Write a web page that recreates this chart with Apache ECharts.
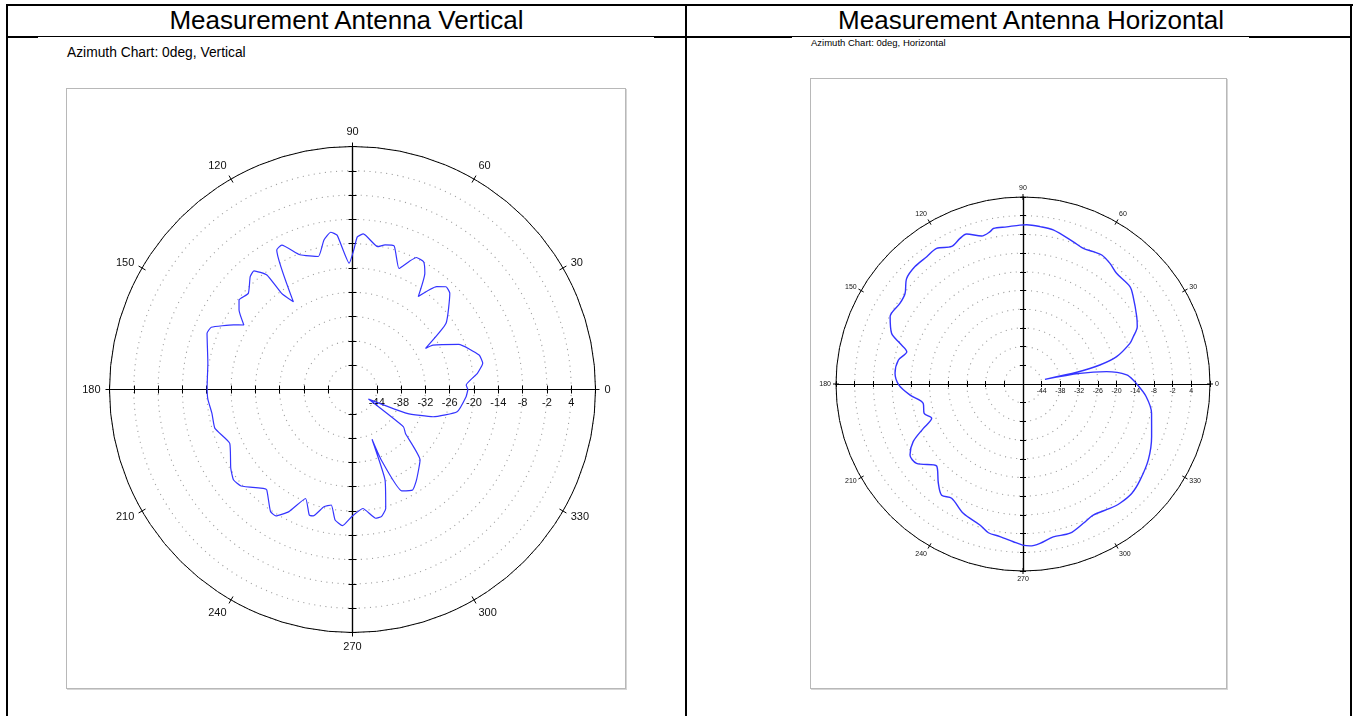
<!DOCTYPE html>
<html>
<head>
<meta charset="utf-8">
<script src="https://cdn.jsdelivr.net/npm/echarts@6/dist/echarts.min.js"></script>
<style>
html,body{margin:0;padding:0;background:#fff;}
#page{position:relative;width:1356px;height:716px;overflow:hidden;font-family:'Liberation Sans',Arial,sans-serif;color:#000;}
.ln{position:absolute;background:#000;}
.frame{position:absolute;box-sizing:border-box;border:1px solid #b8b8b8;box-shadow:1px 1px 0 #d6d6d6;}
.title{position:absolute;top:5px;line-height:31px;font-size:26px;white-space:nowrap;transform:translateX(-50%);}
.sub{position:absolute;white-space:nowrap;}
#chart{position:absolute;left:0;top:0;width:1356px;height:716px;}
</style>
</head>
<body>
<div id="page">
  <div class="ln" style="left:6px;top:4px;width:1347px;height:2px"></div>
  <div class="ln" style="left:6px;top:4px;width:2px;height:712px"></div>
  <div class="ln" style="left:685px;top:4px;width:2px;height:712px"></div>
  <div class="ln" style="left:1350px;top:4px;width:2px;height:712px"></div>
  <div class="ln" style="left:6px;top:36px;width:1346px;height:1px"></div>
  <div class="ln" style="left:6px;top:36px;width:32px;height:2px"></div>
  <div class="ln" style="left:654px;top:36px;width:138px;height:2px"></div>
  <div class="ln" style="left:1249px;top:36px;width:103px;height:2px"></div>

  <div class="title" style="left:346.5px">Measurement Antenna Vertical</div>
  <div class="title" style="left:1031px">Measurement Antenna Horizontal</div>

  <div class="sub" style="left:67px;top:46px;font-size:13.8px;line-height:13px">Azimuth Chart: 0deg, Vertical</div>
  <div class="sub" style="left:811px;top:38px;font-size:9.5px;line-height:9px">Azimuth Chart: 0deg, Horizontal</div>

  <div class="frame" style="left:66px;top:88px;width:560px;height:601px"></div>
  <div class="frame" style="left:810px;top:78px;width:417px;height:611px"></div>

  <div id="chart"></div>
</div>
<script>
// ---- data (dB vs azimuth in degrees) ----
const vAngles = [0, 2.3, 7.4, 11.4, 15.2, 23, 28.9, 29.4, 35.3, 44.7, 47.7, 50.7, 54.7, 58.1, 60.9,
  64.2, 66.2, 69, 73.8, 77.3, 80, 86, 88.2, 89.5, 91.5, 95.7, 97.9, 100.8, 104.4, 111.3,
  116.1, 118.5, 124, 126.4, 126.8, 129.7, 132.2, 137.3, 141.7, 145, 149.3, 151.5, 156.2, 158.9, 169.7,
  178.9, 183.8, 189.6, 195.8, 203.7, 212.9, 217.3, 220.9, 227.9, 229.5, 236.1, 238.8, 242.5, 246.7, 251,
  252.7, 256.3, 259.6, 262.4, 265.8, 269.6, 275, 280.2, 282.8, 285.6, 289.8, 291.4, 292.2, 295.9, 300.9,
  305.2, 313.8, 320.3, 323.8, 329.1, 336.4, 341.3, 348, 356.4, 360];
const vGain = [-21.5, -21.9, -18.9, -17.2, -17.6, -21.5, -27.3, -29.3, -21.7, -16.2, -15.7, -17.2, -21.9, -16.2, -13.9,
  -13.8, -15.5, -18.0, -13.1, -13.4, -14.2, -11.5, -12.3, -15.6, -18.8, -11.7, -10.8, -12.4, -16.1, -14.3,
  -10.3, -10.8, -23.9, -20.5, -14.7, -11.9, -12.4, -15.0, -14.3, -15.8, -18.8, -16.6, -11.9, -11.5, -13.7,
  -14.1, -14.2, -14.8, -14.7, -16.9, -14.2, -13.1, -13.6, -17.1, -17.4, -13.7, -13.5, -16.0, -20.7, -17.2,
  -17.3, -20.2, -21.0, -17.5, -16.3, -18.6, -20.5, -17.7, -17.8, -19.5, -26.3, -36.8, -31.2, -22.2, -21.1,
  -22.6, -25.9, -33.0, -34.4, -45.4, -35.3, -29.0, -23.6, -21.9, -21.5];

const hAngles = [0, 1.2, 5, 8.4, 10.6, 12, 12.4, 13.9, 16.3, 20.8, 23.2, 26.6, 30.6, 38.4, 42.3,
  49.8, 54.2, 58.6, 62, 66, 70.5, 78.9, 83.8, 88.7, 91.1, 95.9, 100.8, 102.2, 105.6, 110.6,
  113.4, 117.4, 122.5, 127.1, 132.6, 137.8, 142.5, 146.7, 153.1, 158.9, 161.7, 164.5, 169.1, 175.2, 180.5,
  185.6, 191, 196.5, 200.6, 204, 207.7, 212.1, 216.7, 223.5, 229.6, 233.8, 238, 245.2, 253, 256.9,
  261.4, 266.5, 269.9, 272.5, 276.1, 281.2, 287.5, 293.4, 298.2, 304.9, 309.1, 314.8, 320.6, 328.8, 337.7,
  347.2, 354.2, 360];
const hGain = [-13.5, -14.1, -16.6, -22.9, -31.4, -42.8, -32.0, -24.6, -18.7, -13.3, -11.5, -9.0, -7.6, -4.9, -3.6,
  -3.5, -2.3, -1.5, -1.9, -2.4, -1.6, 0.4, 0.8, 1.1, 1.0, 0.7, 0.8, 0.0, -0.7, 1.4,
  0.9, -0.3, 1.6, 1.2, 1.2, 0.4, -2.3, -2.8, -2.2, -4.8, -8.4, -11.3, -9.3, -8.8, -10.2,
  -13.6, -17.4, -16.9, -18.7, -15.0, -10.2, -7.2, -7.4, -11.8, -8.1, -5.8, -6.8, -4.3, -2.7, -1.0,
  -0.5, 0.7, 1.7, 2.0, 1.4, 0.0, 0.2, -1.3, -2.3, -1.3, -0.7, -0.5, -1.4, -3.0, -5.4,
  -7.7, -10.3, -13.5];

const radialTickLabels = ['-44', '-38', '-32', '-26', '-20', '-14', '-8', '-2', '4'];
const radiusMin = -50, radiusMax = 10, radiusStep = 6;
const angleStep = 30;

// ---- layout / style (not data) ----
const FONT = 'Liberation Sans, Arial, sans-serif';
const charts = [
  { cx: 352.5, cy: 389.5, R: 243, font: 11, tick: 4, margin: 9, radMargin: 8, lw: 1.2, smooth: 0.15, angles: vAngles, gains: vGain },
  { cx: 1023, cy: 384, R: 187, font: 7, tick: 3, margin: 5, radMargin: 3.5, lw: 1.4, smooth: 0.3, angles: hAngles, gains: hGain }
];

const option = {
  animation: false,
  textStyle: { fontFamily: FONT },
  polar: [], angleAxis: [], radiusAxis: [], grid: [], xAxis: [], yAxis: [], series: []
};

const span = radiusMax - radiusMin;
function crossLabel(v) {
  const k = Math.round(v / radiusStep);
  return (k >= 1 && k <= radialTickLabels.length) ? radialTickLabels[k - 1] : '';
}

charts.forEach((c, i) => {
  const p0 = i * 2;
  const g0 = i * 2;
  option.polar.push({ center: [c.cx, c.cy], radius: c.R });
  option.polar.push({ center: [c.cx, c.cy], radius: c.R });
  option.angleAxis.push({
    polarIndex: p0, type: 'value', min: 0, max: 360, interval: angleStep,
    startAngle: 0, clockwise: false, z: 3,
    axisLine: { show: true, lineStyle: { color: '#000', width: 1 } },
    axisTick: { show: true, length: c.tick, lineStyle: { color: '#000', width: 1 } },
    axisLabel: {
      show: true, margin: c.margin, fontSize: c.font, color: '#111', fontFamily: FONT,
      formatter: v => {
        if (v >= 360) return '';
        const m = v % 180;
        return (m === 30 || m === 150) ? '{d|' + v + '}' : String(v);
      },
      rich: { d: { fontSize: c.font, color: '#111', fontFamily: FONT, lineHeight: 2 } }
    },
    splitLine: { show: false }
  });
  option.angleAxis.push({
    polarIndex: p0 + 1, type: 'value', min: 0, max: 360, interval: angleStep,
    startAngle: 0, clockwise: false, z: 3,
    axisLine: { show: false },
    axisTick: { show: true, inside: true, length: c.tick, lineStyle: { color: '#000', width: 1 } },
    axisLabel: { show: false },
    splitLine: { show: false }
  });
  option.radiusAxis.push({
    polarIndex: p0, type: 'value', min: radiusMin, max: radiusMax, interval: radiusStep,
    axisLine: { show: false }, axisTick: { show: false }, axisLabel: { show: false },
    splitLine: { show: true, lineStyle: { color: '#a0a0a0', width: 1.1, type: [1.1, 4.5] } }
  });
  option.radiusAxis.push({
    polarIndex: p0 + 1, type: 'value', min: radiusMin, max: radiusMax, interval: radiusStep,
    axisLine: { show: false }, axisTick: { show: false }, axisLabel: { show: false },
    splitLine: { show: false }
  });

  // crosshair through the centre, graduated in the same radial steps
  option.grid.push({ left: c.cx - c.R, top: c.cy - c.R, width: 2 * c.R, height: 2 * c.R, show: false });
  // label strip whose bottom edge is the horizontal diameter
  option.grid.push({ left: c.cx - c.R, top: c.cy - c.R, width: 2 * c.R, height: c.R, show: false });
  const ax = (pos) => ({
    gridIndex: g0, type: 'value', min: -span, max: span, interval: radiusStep, position: pos, z: 4,
    axisLine: { show: true, onZero: true, lineStyle: { color: '#000', width: 1.2 } },
    axisTick: { show: true, length: c.tick, lineStyle: { color: '#000', width: 1 } },
    axisLabel: { show: false },
    splitLine: { show: false }
  });
  option.xAxis.push(ax('bottom'));
  option.xAxis.push(ax('top'));
  option.yAxis.push(ax('left'));
  option.yAxis.push(ax('right'));
  option.xAxis.push({
    gridIndex: g0 + 1, type: 'value', min: -span, max: span, interval: radiusStep, position: 'bottom', z: 4,
    axisLine: { show: false }, axisTick: { show: false }, splitLine: { show: false },
    axisLabel: { show: true, margin: c.radMargin, fontSize: c.font, color: '#111', fontFamily: FONT,
      formatter: crossLabel, showMinLabel: true, showMaxLabel: true }
  });
  option.yAxis.push({
    gridIndex: g0 + 1, type: 'value', min: 0, max: 1, show: false
  });

  option.series.push({
    type: 'line', coordinateSystem: 'polar', polarIndex: p0, z: 5,
    data: c.angles.map((a, k) => [c.gains[k], a]),
    symbol: 'none', smooth: c.smooth,
    lineStyle: { color: '#3434ff', width: c.lw }
  });
});

const chart = echarts.init(document.getElementById('chart'));
chart.setOption(option);
</script>
</body>
</html>
